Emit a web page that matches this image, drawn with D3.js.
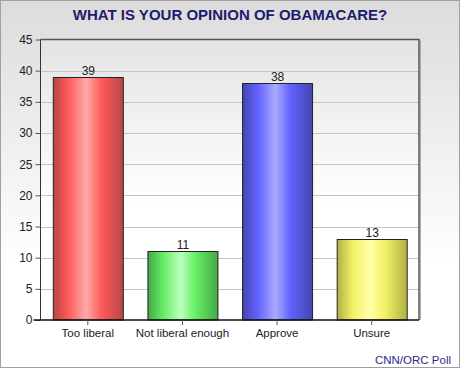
<!DOCTYPE html>
<html><head><meta charset="utf-8">
<script src="https://cdn.jsdelivr.net/npm/d3@7"></script>
<style>body{margin:0;padding:0;overflow:hidden}svg{display:block}</style>
</head><body>
<script>
const categories = ["Too liberal", "Not liberal enough", "Approve", "Unsure"];
const values = [39, 11, 38, 13];
const yTicks = [0, 5, 10, 15, 20, 25, 30, 35, 40, 45];
const palette = [
  {dark: "#b94545", mid: "#ff5c5c", light: "#ffaaaa"},
  {dark: "#45a845", mid: "#66ee66", light: "#bbffbb"},
  {dark: "#4545b0", mid: "#6262ff", light: "#aaaaff"},
  {dark: "#b0b045", mid: "#f2f266", light: "#ffffaa"}
];
const title = "WHAT IS YOUR OPINION OF OBAMACARE?";
const source = "CNN/ORC Poll";

const W = 460, H = 368;
const m = {left: 40.5, right: 419, top: 39.5, bottom: 320};
const FONT = "Liberation Sans, Arial, sans-serif";
const svg = d3.select("body").append("svg").attr("width", W).attr("height", H);
const defs = svg.append("defs");

const bg = defs.append("linearGradient").attr("id", "bg").attr("x1", 0).attr("y1", 0).attr("x2", 0).attr("y2", 1);
bg.append("stop").attr("offset", "0").attr("stop-color", "#dcdcdc");
bg.append("stop").attr("offset", "0.72").attr("stop-color", "#ffffff");
bg.append("stop").attr("offset", "1").attr("stop-color", "#ffffff");
const pg = defs.append("linearGradient").attr("id", "pg").attr("x1", 0).attr("y1", 0).attr("x2", 0).attr("y2", 1);
pg.append("stop").attr("offset", "0").attr("stop-color", "#e4e4e4");
pg.append("stop").attr("offset", "0.6").attr("stop-color", "#ffffff");
pg.append("stop").attr("offset", "1").attr("stop-color", "#ffffff");

palette.forEach((p, i) => {
  const g = defs.append("linearGradient").attr("id", "bar" + i).attr("x1", 0).attr("y1", 0).attr("x2", 1).attr("y2", 0);
  [[0, p.dark], [0.22, p.mid], [0.47, p.light], [0.68, p.mid], [1, p.dark]].forEach(([o, c]) =>
    g.append("stop").attr("offset", o).attr("stop-color", c));
});

svg.append("rect").attr("x", 0.5).attr("y", 0.5).attr("width", W - 1).attr("height", H - 1)
  .attr("fill", "url(#bg)").attr("stroke", "#a0a0a0");

const x = d3.scaleBand().domain(categories).range([m.left, m.right]).paddingInner(0.26).paddingOuter(0.13);
const y = d3.scaleLinear().domain([0, 45]).range([m.bottom, m.top]);

svg.append("rect").attr("x", m.left).attr("y", m.top).attr("width", m.right - m.left).attr("height", m.bottom - m.top)
  .attr("fill", "url(#pg)");

svg.append("g").selectAll("line").data(yTicks.filter(d => d > 0 && d < 45)).join("line")
  .attr("x1", m.left).attr("x2", m.right)
  .attr("y1", d => Math.round(y(d)) + 0.5).attr("y2", d => Math.round(y(d)) + 0.5)
  .attr("stroke", "#c4c4c4").attr("stroke-width", 1);

svg.append("path").attr("d", `M${m.left},${m.top}H${m.right}V${m.bottom}`)
  .attr("fill", "none").attr("stroke", "#555").attr("stroke-width", 1.5);
svg.append("line").attr("x1", m.right + 1.5).attr("x2", m.right + 1.5).attr("y1", m.top + 1).attr("y2", m.bottom)
  .attr("stroke", "#aaa").attr("stroke-width", 1);

svg.append("g").selectAll("rect").data(values).join("rect")
  .attr("x", (d, i) => x(categories[i]) + 0.5)
  .attr("y", d => Math.round(y(d)) + 0.5)
  .attr("width", x.bandwidth())
  .attr("height", d => y(0) - Math.round(y(d)) - 0.5)
  .attr("fill", (d, i) => `url(#bar${i})`)
  .attr("stroke", "#222").attr("stroke-width", 1);

svg.append("g").selectAll("text").data(values).join("text")
  .attr("x", (d, i) => x(categories[i]) + x.bandwidth() / 2 + 0.5)
  .attr("y", d => y(d) - 2)
  .attr("text-anchor", "middle")
  .attr("font-family", FONT).attr("font-size", 12).attr("fill", "#222")
  .text(d => d);

const yAxis = d3.axisLeft(y).tickValues(yTicks).tickSize(5).tickPadding(3);
const ga = svg.append("g").attr("transform", `translate(${m.left},0)`).call(yAxis);
ga.select(".domain").attr("stroke", "#333").attr("d", `M-0,${m.top}V${m.bottom}`);
ga.selectAll(".tick line").attr("stroke", "#555");
ga.selectAll("text").attr("font-family", FONT).attr("font-size", 12).attr("fill", "#222");

const xAxis = d3.axisBottom(x).tickSize(5).tickPadding(4);
const gx = svg.append("g").attr("transform", `translate(0,${m.bottom})`).call(xAxis);
gx.select(".domain").attr("stroke", "#111").attr("stroke-width", 1.5).attr("d", `M${m.left - 7},0H${m.right}`);
gx.selectAll(".tick line").attr("stroke", "#555");
gx.selectAll("text").attr("font-family", FONT).attr("font-size", 11.5).attr("fill", "#222");

svg.append("text").attr("x", 230).attr("y", 19.5).attr("text-anchor", "middle")
  .attr("font-family", FONT).attr("font-weight", "bold").attr("font-size", 15)
  .attr("fill", "#1c1c6e").text(title);

svg.append("text").attr("x", 451).attr("y", 364).attr("text-anchor", "end")
  .attr("font-family", FONT).attr("font-size", 11.5)
  .attr("fill", "#2a2a8a").text(source);
</script>
</body></html>
